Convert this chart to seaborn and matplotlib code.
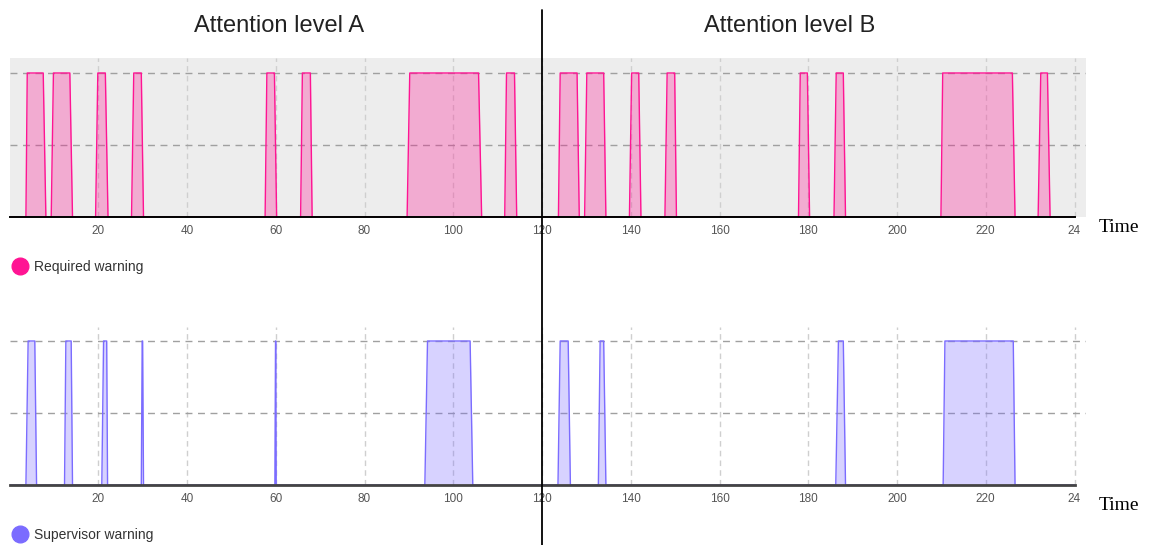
import numpy as np
import pandas as pd
import seaborn as sns
import matplotlib.pyplot as plt
import matplotlib.transforms as mtransforms
from matplotlib.lines import Line2D

# pulse edges: (off, on, on, off) times
req_rise0 = [3.7, 9.4, 19.4, 27.5, 57.6, 65.6, 89.6, 111.6, 123.7, 129.6, 139.7, 147.7, 177.8, 185.8, 209.9, 231.8]
req_rise1 = [4.0, 9.9, 19.9, 28.0, 58.0, 66.0, 90.2, 112.0, 124.1, 130.1, 140.2, 148.2, 178.2, 186.3, 210.3, 232.4]
req_fall0 = [7.6, 13.6, 21.6, 29.7, 59.7, 67.8, 105.7, 113.8, 127.9, 133.9, 141.8, 149.9, 179.8, 187.9, 226.0, 233.9]
req_fall1 = [8.2, 14.2, 22.2, 30.2, 60.2, 68.2, 106.4, 114.3, 128.4, 134.4, 142.3, 150.3, 180.3, 188.4, 226.6, 234.5]

sup_rise0 = [3.7, 12.4, 20.8, 29.7, 59.8, 93.6, 123.6, 132.7, 186.2, 210.4]
sup_rise1 = [4.2, 12.7, 21.2, 29.9, 59.95, 94.2, 124.1, 133.1, 186.8, 210.8]
sup_fall0 = [5.7, 13.9, 21.9, 30.0, 60.0, 103.8, 125.9, 133.9, 187.9, 226.2]
sup_fall1 = [6.1, 14.2, 22.1, 30.2, 60.1, 104.4, 126.4, 134.4, 188.4, 226.6]

t_end = 240
x_ticks = [20, 40, 60, 80, 100, 120, 140, 160, 180, 200, 220, 240]
x_labels = ["20", "40", "60", "80", "100", "120", "140", "160", "180", "200", "220", "24"]
titles = ["Attention level A", "Attention level B"]


def build(r0, r1, f0, f1):
    t = [0]
    v = [0]
    for a, b, c, d in zip(r0, r1, f0, f1):
        t += [a, b, c, d]
        v += [0, 1, 1, 0]
    t.append(t_end)
    v.append(0)
    return pd.DataFrame({"time": t, "level": v})


req = build(req_rise0, req_rise1, req_fall0, req_fall1)
sup = build(sup_rise0, sup_rise1, sup_fall0, sup_fall1)

sns.set_style("white")
plt.rcParams["font.family"] = ["Liberation Sans", "DejaVu Sans"]

W, H = 1149, 545
fig = plt.figure(figsize=(W / 100, H / 100), dpi=100)

px_per = 4.4375
x0 = 9.5
xmax = (1086 - x0) / px_per

ax1 = fig.add_axes([x0 / W, (H - 217) / H, (1086 - x0) / W, (217 - 58) / H])
ax2 = fig.add_axes([x0 / W, (H - 485) / H, (1086 - x0) / W, (485 - 327) / H])

pink = "#ff1493"
purple = "#7b6cff"

for ax, df, col, top, bg, spc, spw in [
    (ax1, req, pink, (217 - 58) / 144, "#ededed", "black", 1.4),
    (ax2, sup, purple, (485 - 327) / 144, "white", "#444444", 2.0),
]:
    ax.set_facecolor(bg)
    sns.lineplot(data=df, x="time", y="level", ax=ax, color=col, lw=1.0,
                 estimator=None, sort=False)
    ax.fill_between(df["time"], df["level"], 0, color=col, alpha=0.3, lw=0)
    ax.set_xlim(0, xmax)
    ax.set_ylim(0, top)
    ax.set_xticks(x_ticks)
    ax.set_xticklabels(x_labels)
    ax.set_yticks([0.5, 1.0])
    ax.set_yticklabels([])
    ax.tick_params(axis="both", length=0)
    ax.tick_params(axis="x", pad=6, labelsize=8.5, labelcolor="#555555")
    ax.grid(axis="x", ls=(0, (4, 3)), color="#cfcfcf", lw=1)
    ax.grid(axis="y", ls=(0, (5, 4)), color="#a0a0a0", lw=1)
    ax.set_xlabel("")
    ax.set_ylabel("")
    for s in ["top", "left", "right"]:
        ax.spines[s].set_visible(False)
    ax.spines["bottom"].set_color(spc)
    ax.spines["bottom"].set_linewidth(spw)
    ax.spines["bottom"].set_bounds(0, t_end)

# separator between the two attention levels
tr = mtransforms.blended_transform_factory(ax1.transData, fig.transFigure)
fig.add_artist(Line2D([120, 120], [0, 1 - 10 / H], transform=tr, color="black", lw=1.3))

fig.text(279 / W, 1 - 26 / H, titles[0], ha="center", va="center", fontsize=17, color="#222222")
fig.text(790 / W, 1 - 26 / H, titles[1], ha="center", va="center", fontsize=17, color="#222222")

for yy in [228, 506]:
    fig.text(1099 / W, 1 - yy / H, "Time", ha="left", va="center", fontsize=14,
             family="Liberation Serif", color="black")

for ax, col, lab, yy in [(ax1, pink, "Required warning", 267), (ax2, purple, "Supervisor warning", 535)]:
    h = Line2D([], [], marker="o", ls="none", color=col, markersize=12)
    ax.legend(handles=[h], labels=[lab], loc="center left", bbox_to_anchor=(13 / W, 1 - yy / H),
              bbox_transform=fig.transFigure, frameon=False, fontsize=10, handlelength=1,
              handletextpad=0.5, borderpad=0, borderaxespad=0, labelcolor="#333333")

fig.savefig("out.png", dpi=100)
